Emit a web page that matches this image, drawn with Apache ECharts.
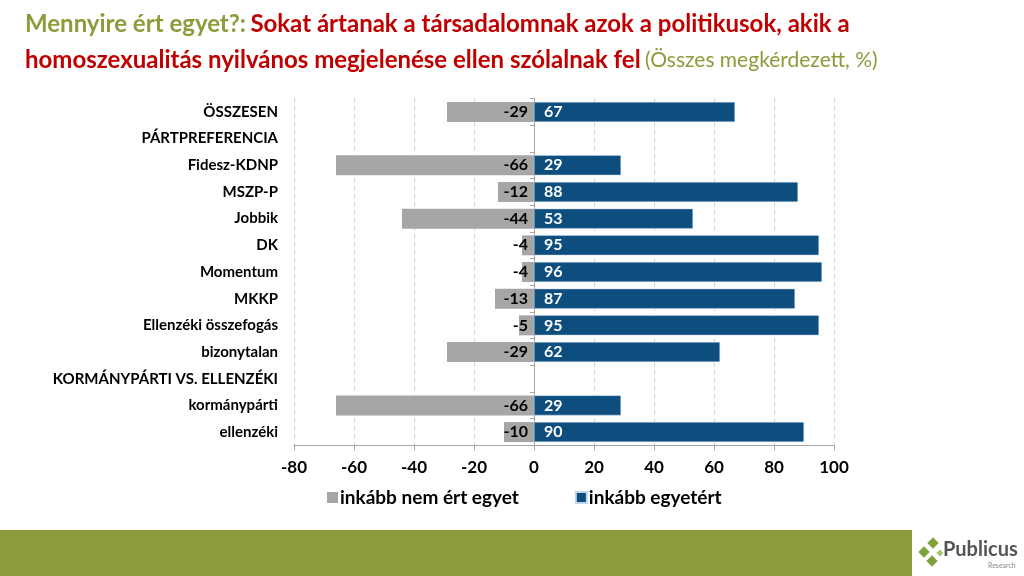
<!DOCTYPE html>
<html><head><meta charset="utf-8">
<script src="https://cdn.jsdelivr.net/npm/echarts@6/dist/echarts.min.js"></script>
<style>html,body{margin:0;padding:0;background:#fff}#c{width:1024px;height:576px}</style>
</head><body><div id="c"></div>
<script>
const categories = ['ÖSSZESEN','PÁRTPREFERENCIA','Fidesz-KDNP','MSZP-P','Jobbik','DK','Momentum','MKKP','Ellenzéki összefogás','bizonytalan','KORMÁNYPÁRTI VS. ELLENZÉKI','kormánypárti','ellenzéki'];
const disagree = [-29, null, -66, -12, -44, -4, -4, -13, -5, -29, null, -66, -10];
const agree = [67, null, 29, 88, 53, 95, 96, 87, 95, 62, null, 29, 90];
const seriesNames = ['inkább nem ért egyet','inkább egyetért'];
const xTicks = {min:-80, max:100, interval:20};

const FONT = 'Lato';
const chart = echarts.init(document.getElementById('c'));
chart.setOption({
  animation:false,
  textStyle:{fontFamily:FONT},
  title:{
    left:20, top:1,
    text:'{g|Mennyire ért egyet?:} {r|Sokat ártanak a társadalomnak azok a politikusok, akik a}\n{r|homoszexualitás nyilvános megjelenése ellen szólalnak fel} {s|(Összes megkérdezett, %)}',
    textStyle:{
      rich:{
        g:{fontFamily:FONT,fontSize:24,fontWeight:'bold',color:'#8C9C3A',lineHeight:36},
        r:{fontFamily:FONT,fontSize:24,fontWeight:'bold',color:'#C00000',lineHeight:36},
        s:{fontFamily:FONT,fontSize:21,fontWeight:'normal',color:'#8C9C3A',lineHeight:36}
      }
    }
  },
  legend:{
    left:322, top:483, itemWidth:11, itemHeight:11, itemGap:56,
    icon:'rect',
    textStyle:{fontFamily:FONT,fontSize:19,fontWeight:'bold',color:'#000',padding:[0,0,0,-3]},
    data:seriesNames
  },
  grid:{left:294, right:190, top:98.6, bottom:130.6, containLabel:false},
  xAxis:{
    type:'value', min:xTicks.min, max:xTicks.max, interval:xTicks.interval,
    axisLine:{show:true,lineStyle:{color:'#A6A6A6'}},
    axisTick:{show:true,length:5,lineStyle:{color:'#A6A6A6'}},
    splitLine:{show:true,lineStyle:{color:'#D0D0D0',type:[4,4]}},
    axisLabel:{fontFamily:FONT,fontSize:17,fontWeight:'bold',color:'#000',margin:14}
  },
  yAxis:[{
    type:'category', data:categories, inverse:true, position:'left',
    axisLine:{show:false,onZero:false},
    axisTick:{show:false},
    axisLabel:{fontFamily:FONT,fontSize:15,fontWeight:'bold',color:'#000',margin:16}
  },{
    type:'category', data:categories, inverse:true, position:'left',
    axisLine:{show:true,onZero:true,lineStyle:{color:'#A6A6A6'}},
    axisTick:{show:true,length:4,lineStyle:{color:'#A6A6A6'}},
    axisLabel:{show:false}
  }],
  series:[{
    name:seriesNames[0], type:'bar', stack:'s', data:disagree, barWidth:20,
    itemStyle:{color:'#A6A6A6'},
    label:{show:true,position:'insideRight',distance:6,color:'#000',fontFamily:FONT,fontSize:16,fontWeight:'bold'}
  },{
    name:seriesNames[1], type:'bar', stack:'s', data:agree, barWidth:20,
    itemStyle:{color:'#0D4E7E',borderColor:'#BDD7EE',borderWidth:0.5},
    label:{show:true,position:'insideLeft',distance:10,color:'#fff',fontFamily:FONT,fontSize:16,fontWeight:'bold'}
  }],
  graphic:[
    {type:'rect',shape:{x:0,y:530,width:912,height:46},style:{fill:'#8C9C3A'}},
    {type:'rect',shape:{x:-4,y:-4,width:8,height:8},rotation:Math.PI/4,x:933,y:543,style:{fill:'#7FA23A'}},
    {type:'rect',shape:{x:-4,y:-4,width:8,height:8},rotation:Math.PI/4,x:924,y:552,style:{fill:'#7FA23A'}},
    {type:'rect',shape:{x:-4,y:-4,width:8,height:8},rotation:Math.PI/4,x:932,y:561,style:{fill:'#7FA23A'}},
    {type:'rect',shape:{x:-2.5,y:-2.5,width:5,height:5},rotation:Math.PI/4,x:940,y:553,style:{fill:'#A9C46A'}},
    {type:'text',x:943,y:540,style:{text:'Publicus',fontFamily:FONT,fontWeight:'bold',fontSize:20,fill:'#555'}},
    {type:'text',x:988,y:562,style:{text:'Research',fontFamily:FONT,fontSize:7,fill:'#888'}}
  ]
});
</script></body></html>
